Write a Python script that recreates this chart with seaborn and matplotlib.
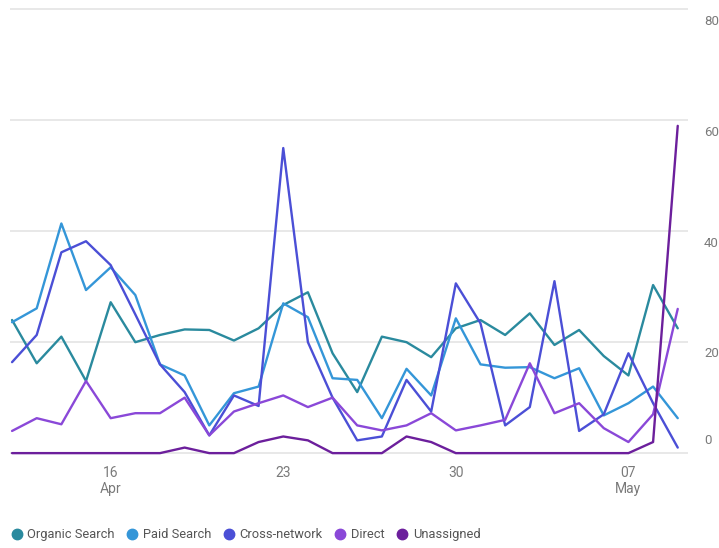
import matplotlib
matplotlib.use("Agg")
import matplotlib.pyplot as plt
from matplotlib.lines import Line2D
import pandas as pd
import seaborn as sns

# Daily sessions by channel
dates = pd.date_range("2024-04-12", "2024-05-09", freq="D")
organic = [24, 16.2, 21, 13, 27.2, 20, 21.3, 22.3, 22.2, 20.3, 22.5, 26.7, 29, 18,
           11, 21, 20, 17.3, 22.5, 24, 21.3, 25.2, 19.5, 22.2, 17.5, 14, 30.3, 22.5]
paid = [23.6, 26.1, 41.4, 29.4, 33.5, 28.5, 16, 14, 5, 10.8, 12, 27, 24.5, 13.5,
        13.2, 6.3, 15.2, 10.4, 24.3, 16, 15.4, 15.5, 13.5, 15.3, 6.8, 9, 12, 6.3]
cross = [16.4, 21.3, 36.2, 38.2, 33.9, 25, 16, 11, 3.2, 10.4, 8.5, 55, 20, 10,
         2.3, 3, 13.2, 7.5, 30.6, 23.4, 5, 8.3, 31, 4, 7, 18, 9, 1]
direct = [4, 6.3, 5.2, 13, 6.3, 7.2, 7.2, 10, 3.2, 7.5, 9, 10.4, 8.3, 10,
          5, 4.1, 5, 7.2, 4.1, 5, 6, 16.2, 7.2, 9, 4.5, 2, 7, 26]
unassigned = [0, 0, 0, 0, 0, 0, 0, 1, 0, 0, 2, 3, 2.3, 0,
              0, 0, 3, 2, 0, 0, 0, 0, 0, 0, 0, 0, 2, 59]

channels = ["Organic Search", "Paid Search", "Cross-network", "Direct", "Unassigned"]
series = [organic, paid, cross, direct, unassigned]
colors = ["#2a8a9e", "#3496d8", "#4b4fd6", "#8a48d8", "#6c1f9c"]
palette = dict(zip(channels, colors))

y_ticks = [0, 20, 40, 60, 80]
x_tick_dates = pd.to_datetime(["2024-04-16", "2024-04-23", "2024-04-30", "2024-05-07"])
x_tick_labels = ["16\nApr", "23", "30", "07\nMay"]

df = pd.concat(
    [pd.DataFrame({"date": dates, "sessions": vals, "channel": name})
     for name, vals in zip(channels, series)],
    ignore_index=True,
)

sns.set_theme(style="white")
plt.rcParams["font.family"] = ["Roboto", "DejaVu Sans"]

fig = plt.figure(figsize=(7.19, 5.48), dpi=100)
ax = fig.add_axes([0.0139, 0.163, 0.943, 0.826])

sns.lineplot(data=df, x="date", y="sessions", hue="channel", hue_order=channels,
             palette=palette, linewidth=1.7, legend=False, ax=ax)

ax.set_ylim(-1, 80.6)
ax.set_xlim(dates[0] - pd.Timedelta(hours=2), dates[-1] + pd.Timedelta(hours=10))

# Value scale on the right: labels sit just under their gridline, zero just above
ax.set_yticks(y_ticks)
ax.set_yticklabels([])
ax.tick_params(axis="y", length=0)
for v in y_ticks:
    dy = 9 if v == 0 else -8.5
    ax.annotate(str(v), xy=(1, v), xycoords=("axes fraction", "data"),
                xytext=(11.5, dy), textcoords="offset points",
                ha="left", va="center", fontsize=9.5, color="#7a7a7a",
                annotation_clip=False)

ax.set_xticks(x_tick_dates)
ax.set_xticklabels(x_tick_labels)
ax.tick_params(axis="x", length=0, pad=5, labelsize=10, labelcolor="#7a7a7a")
ax.set_xlabel("")
ax.set_ylabel("")

ax.grid(axis="y", color="#e6e6e6", linewidth=1.3)
ax.grid(axis="x", visible=False)
for s in ax.spines.values():
    s.set_visible(False)

handles = [Line2D([], [], marker="o", linestyle="none", markersize=7.5,
                  markerfacecolor=c, markeredgecolor=c) for c in colors]
fig.legend(handles, channels, loc="center left", bbox_to_anchor=(0.0, 0.024),
           ncol=5, frameon=False, fontsize=9.25, handlelength=0.8,
           handletextpad=0.4, columnspacing=1.0, labelcolor="#555555",
           borderaxespad=0.5)

fig.savefig("out.png", dpi=100, facecolor="white")
